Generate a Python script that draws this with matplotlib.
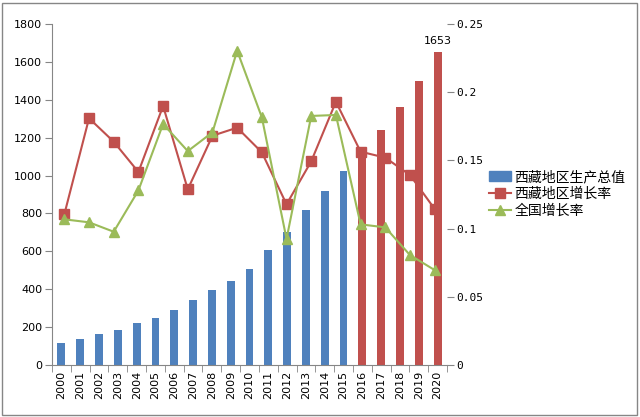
import matplotlib
matplotlib.use("Agg")
import matplotlib.pyplot as plt
import numpy as np
from matplotlib.patches import Rectangle

plt.rcParams['font.family'] = ['DejaVu Sans', 'Noto Sans CJK SC']

years = [str(y) for y in range(2000, 2021)]
gdp = [117.8, 139.2, 162.0, 185.0, 220.3, 248.8, 290.8, 341.4, 394.9, 441.4,
       507.5, 605.8, 701.0, 815.7, 920.8, 1026.4, 1151.0, 1240.0, 1362.0, 1499.0, 1653.0]
n_actual = 16  # 2000-2015 actual (blue), 2016-2020 forecast (red)

tibet_rate = [0.1105, 0.1809, 0.1637, 0.1415, 0.1899, 0.1288, 0.1681, 0.1740,
              0.1559, 0.1178, 0.1493, 0.1930, 0.1564, 0.1520, 0.1393, 0.1144]
china_rate = [0.1068, 0.1046, 0.0977, 0.1280, 0.1767, 0.1568, 0.1706, 0.2304,
              0.1816, 0.0924, 0.1826, 0.1833, 0.1031, 0.1009, 0.0806, 0.0696]

left_ticks = [0, 200, 400, 600, 800, 1000, 1200, 1400, 1600, 1800]
right_ticks = [0, 0.05, 0.1, 0.15, 0.2, 0.25]
right_labels = ['0', '0.05', '0.1', '0.15', '0.2', '0.25']

blue = '#4F81BD'
red = '#C0504D'
green = '#9BBB59'
axis_gray = '#868686'

fig = plt.figure(figsize=(6.4, 4.17), dpi=100)
pos = [52/640, 52/417, 395/640, 341/417]
ax = fig.add_axes(pos)

x = np.arange(len(years))
colors = [blue if i < n_actual else red for i in range(len(years))]
bars = ax.bar(x, gdp, width=0.42, color=colors, zorder=2)
ax.set_xlim(-0.5, len(years) - 0.5)
ax.set_ylim(0, 1800)
ax.set_yticks(left_ticks)
ax.set_yticklabels([str(v) for v in left_ticks], fontsize=8)
ax.set_xticks(x)
ax.set_xticklabels(years, rotation=90, fontsize=8)
ax.tick_params(axis='x', length=0, pad=4)
ax.set_xticks(np.arange(-0.5, len(years)), minor=True)
ax.tick_params(axis='x', which='minor', length=5, color=axis_gray, direction='out')
ax.tick_params(axis='y', length=5, color=axis_gray, direction='out', pad=2)
for s in ['top', 'right']:
    ax.spines[s].set_visible(False)
for s in ['left', 'bottom']:
    ax.spines[s].set_color(axis_gray)
ax.text(x[-1], gdp[-1] + 30, '%d' % gdp[-1], ha='center', va='bottom', fontsize=8)

# secondary axes for the growth rate lines (16 categories)
ax2 = fig.add_axes(pos, frameon=False)
xl = np.arange(len(tibet_rate))
ln1, = ax2.plot(xl, tibet_rate, color=red, lw=1.5, marker='s', ms=7.5, zorder=3)
ln2, = ax2.plot(xl, china_rate, color=green, lw=1.5, marker='^', ms=7.5, zorder=4)
ax2.set_xlim(-0.5, len(tibet_rate) - 0.5)
ax2.set_ylim(0, 0.25)
ax2.xaxis.set_visible(False)
ax2.yaxis.tick_right()
ax2.set_yticks(right_ticks)
ax2.set_yticklabels(right_labels, fontsize=8, family='DejaVu Sans Mono')
ax2.tick_params(axis='y', length=5, color=axis_gray, direction='out', pad=2)
ax2.spines['right'].set_visible(True)
ax2.spines['right'].set_color(axis_gray)
ax2.patch.set_visible(False)

leg = fig.legend([bars.patches[0], ln1, ln2],
                 ['西藏地区生产总值', '西藏地区增长率', '全国增长率'],
                 loc='upper left', bbox_to_anchor=(489/640, 1 - 170/417),
                 frameon=False, handlelength=1.6, handletextpad=0.25,
                 labelspacing=0.2, borderpad=0, borderaxespad=0,
                 prop={'family': ['Noto Sans CJK SC'], 'size': 10})
leg.legend_handles[0].set_color(blue)

fig.patches.append(Rectangle((2/640, 2/417), 635/640, 412/417, transform=fig.transFigure,
                             fill=False, edgecolor=axis_gray, lw=1))

fig.savefig('out.png', dpi=100)
